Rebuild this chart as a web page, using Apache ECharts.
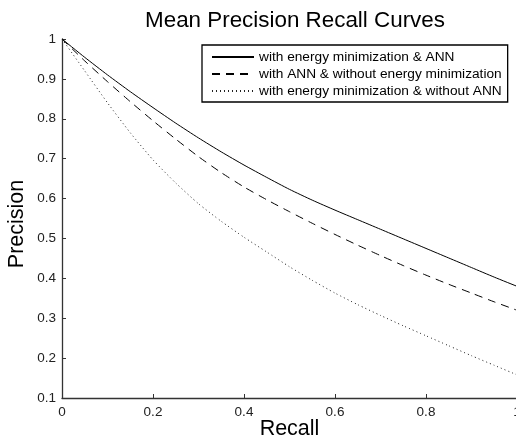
<!DOCTYPE html>
<html><head><meta charset="utf-8">
<script src="https://cdn.jsdelivr.net/npm/echarts@6/dist/echarts.min.js"></script>
<style>html,body{margin:0;padding:0;background:#fff}#c{width:516px;height:438px}</style>
</head><body><div id="c"></div>
<script>
const titleText = 'Mean Precision Recall Curves';
const xName = 'Recall';
const yName = 'Precision';
const seriesNames = [
  'with energy minimization & ANN',
  'with ANN & without energy minimization',
  'with energy minimization & without ANN'
];
const recall =      [0, 0.05, 0.1, 0.15, 0.2, 0.25, 0.3, 0.35, 0.4, 0.45, 0.5, 0.55, 0.6, 0.65, 0.7, 0.75, 0.8, 0.85, 0.9, 0.95, 1.0];
const withBoth =    [1, 0.954, 0.910, 0.868, 0.828, 0.789, 0.752, 0.717, 0.684, 0.653, 0.623, 0.596, 0.571, 0.547, 0.523, 0.499, 0.475, 0.451, 0.427, 0.403, 0.380];
const annOnly =     [1, 0.945, 0.893, 0.843, 0.795, 0.749, 0.705, 0.665, 0.629, 0.597, 0.567, 0.538, 0.510, 0.483, 0.457, 0.432, 0.408, 0.385, 0.363, 0.341, 0.320];
const energyOnly =  [1, 0.920, 0.840, 0.765, 0.697, 0.639, 0.587, 0.543, 0.503, 0.466, 0.429, 0.395, 0.363, 0.334, 0.307, 0.281, 0.256, 0.231, 0.206, 0.182, 0.158];

const pairs = ys => recall.map((x, i) => [x, ys[i]]);
const FONT = 'Liberation Sans, Arial, sans-serif';
const axisCol = '#333';

const chart = echarts.init(document.getElementById('c'), null, {renderer: 'canvas'});
chart.setOption({
  animation: false,
  backgroundColor: '#fff',
  title: {
    text: titleText, left: 290, top: 5, textAlign: 'center',
    textStyle: {fontFamily: FONT, fontSize: 22.4, fontWeight: 'normal', color: '#000'}
  },
  legend: {
    orient: 'vertical', left: 202, top: 45,
    padding: [5, 6, 4, 9], itemGap: 3, itemWidth: 42, itemHeight: 14,
    borderColor: '#000', borderWidth: 1.3, backgroundColor: '#fff',
    itemStyle: {color: 'rgba(0,0,0,0)', borderWidth: 0},
    textStyle: {fontFamily: FONT, fontSize: 13.7, color: '#000', lineHeight: 14},
    data: seriesNames
  },
  grid: {left: 62, right: -1, top: 39, bottom: 40, containLabel: false, outerBoundsMode: 'none'},
  xAxis: {
    type: 'value', min: 0, max: 1, interval: 0.2,
    name: xName, nameLocation: 'middle', nameGap: 20, nameMoveOverlap: false,
    nameTextStyle: {fontFamily: FONT, fontSize: 21.5, color: '#000'},
    axisLine: {show: true, lineStyle: {color: axisCol, width: 1.3}},
    axisTick: {show: true, inside: true, length: 4, lineStyle: {color: axisCol}},
    axisLabel: {fontFamily: FONT, fontSize: 13.5, color: '#222', margin: 7, showMaxLabel: true},
    splitLine: {show: false}
  },
  yAxis: {
    type: 'value', min: 0.1, max: 1, interval: 0.1,
    name: yName, nameLocation: 'middle', nameGap: 34, nameMoveOverlap: false,
    nameTextStyle: {fontFamily: FONT, fontSize: 21.5, color: '#000', padding: [0, 11, 0, 0]},
    axisLine: {show: true, lineStyle: {color: axisCol, width: 1.3}},
    axisTick: {show: true, inside: true, length: 4, lineStyle: {color: axisCol}},
    axisLabel: {fontFamily: FONT, fontSize: 13.5, color: '#222', margin: 6},
    splitLine: {show: false}
  },
  series: [
    {name: seriesNames[0], type: 'line', data: pairs(withBoth), symbol: 'none', smooth: 0.2,
     itemStyle: {color: '#000'}, lineStyle: {color: '#000', width: 1, type: 'solid'}},
    {name: seriesNames[1], type: 'line', data: pairs(annOnly), symbol: 'none', smooth: 0.2,
     itemStyle: {color: '#000'}, lineStyle: {color: '#000', width: 1, type: [8, 6]}},
    {name: seriesNames[2], type: 'line', data: pairs(energyOnly), symbol: 'none', smooth: 0.2,
     itemStyle: {color: '#000'}, lineStyle: {color: '#222', width: 1, type: [1, 3]}}
  ]
});
</script></body></html>
